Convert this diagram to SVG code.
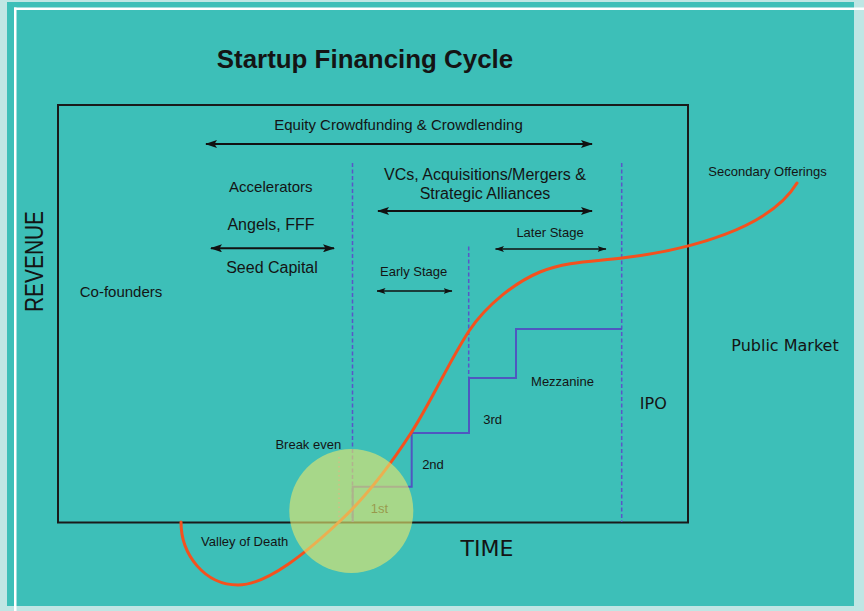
<svg xmlns="http://www.w3.org/2000/svg" width="864" height="611" viewBox="0 0 864 611">
<defs>
<style>
.t{font-family:"Liberation Sans",Arial,sans-serif;fill:#141414}
.d{font-family:"DejaVu Sans",sans-serif;fill:#141414}
.arr{stroke:#111;stroke-width:2;fill:none}
.arrs{stroke:#111;stroke-width:1.4;fill:none}
.dash{stroke:#5a55c8;stroke-width:1.5;stroke-dasharray:4 2.5;fill:none}
.stair{stroke:#4f57c0;stroke-width:2;fill:none}
</style>
<marker id="ah" viewBox="0 0 12 8" refX="11" refY="4" markerWidth="12" markerHeight="8" markerUnits="userSpaceOnUse" orient="auto-start-reverse">
<path d="M0,0 L12,4 L0,8 L2.5,4 z" fill="#111"/>
</marker>
<marker id="ahs" viewBox="0 0 9 6" refX="8.5" refY="3" markerWidth="9" markerHeight="6" markerUnits="userSpaceOnUse" orient="auto-start-reverse">
<path d="M0,0 L9,3 L0,6 L2,3 z" fill="#111"/>
</marker>
</defs>
<rect x="0" y="0" width="864" height="611" fill="#bfe6e4"/>
<rect x="7" y="2" width="847" height="604" fill="#3dbfb8"/>
<rect x="14" y="7.5" width="850" height="2.5" fill="#ffffff"/>
<rect x="14" y="7.5" width="2.5" height="603.5" fill="#ffffff"/>

<text class="t" x="365" y="68" font-size="25.9" font-weight="bold" text-anchor="middle">Startup Financing Cycle</text>

<g id="frame">
<rect x="58" y="105" width="630" height="417.5" fill="none" stroke="#1a1a1a" stroke-width="2"/>
</g>

<g id="axes-labels">
<text class="t" transform="translate(42.5,261.5) rotate(-90)" font-size="26" text-anchor="middle" textLength="101" lengthAdjust="spacingAndGlyphs">REVENUE</text>
<text class="d" x="487" y="556" font-size="22" text-anchor="middle">TIME</text>
</g>

<g id="dividers">
<line class="dash" x1="352.5" y1="163" x2="352.5" y2="522"/>
<line class="dash" x1="468.7" y1="246.5" x2="468.7" y2="378"/>
<line class="dash" x1="621.7" y1="163" x2="621.7" y2="522"/>
<line x1="339" y1="457" x2="339" y2="522" stroke="#b07aa8" stroke-width="1.5" stroke-dasharray="1.5 3"/>
</g>

<g id="connectors">
<line class="arr" x1="206" y1="144" x2="592" y2="144" marker-start="url(#ah)" marker-end="url(#ah)"/>
<line class="arr" x1="378" y1="211" x2="592" y2="211" marker-start="url(#ah)" marker-end="url(#ah)"/>
<line class="arr" x1="211" y1="248.3" x2="334" y2="248.3" marker-start="url(#ah)" marker-end="url(#ah)"/>
<line class="arrs" x1="495.5" y1="249" x2="606" y2="249" marker-start="url(#ahs)" marker-end="url(#ahs)"/>
<line class="arrs" x1="377" y1="291" x2="452" y2="291" marker-start="url(#ahs)" marker-end="url(#ahs)"/>
</g>

<g id="stairs">
<path class="stair" d="M352.7,522 V486.7 H411.7 V433 H469 V378 H516 V329 H622"/>
</g>

<g id="labels">
<text class="t" x="398.5" y="130" font-size="15" text-anchor="middle">Equity Crowdfunding &amp; Crowdlending</text>
<text class="t" x="270.8" y="191.5" font-size="15" text-anchor="middle">Accelerators</text>
<text class="t" x="271" y="230" font-size="16" text-anchor="middle">Angels, FFF</text>
<text class="t" x="272" y="273" font-size="16" text-anchor="middle">Seed Capital</text>
<text class="t" x="121" y="296.5" font-size="15" text-anchor="middle">Co-founders</text>
<text class="t" x="485" y="180" font-size="16" text-anchor="middle">VCs, Acquisitions/Mergers &amp;</text>
<text class="t" x="485" y="199" font-size="16" text-anchor="middle">Strategic Alliances</text>
<text class="t" x="550" y="236.5" font-size="13" text-anchor="middle">Later Stage</text>
<text class="t" x="413.7" y="276" font-size="13" text-anchor="middle">Early Stage</text>
<text class="t" x="767.5" y="176" font-size="13" text-anchor="middle">Secondary Offerings</text>
<text class="d" x="785" y="351" font-size="16" text-anchor="middle">Public Market</text>
<text class="d" x="653.3" y="408.5" font-size="16" text-anchor="middle">IPO</text>
<text class="t" x="562.5" y="385.5" font-size="13" text-anchor="middle">Mezzanine</text>
<text class="t" x="492.7" y="424" font-size="13" text-anchor="middle">3rd</text>
<text class="t" x="433" y="468.5" font-size="13" text-anchor="middle">2nd</text>
<text class="t" x="379.5" y="513" font-size="13" text-anchor="middle">1st</text>
<text class="t" x="308.3" y="449.3" font-size="13" text-anchor="middle">Break even</text>
<text class="t" x="244.7" y="546" font-size="13" text-anchor="middle">Valley of Death</text>
</g>

<g id="revenue-curve">
<path d="M181,522 C181,555 205,585 238,585 C268,585 309,550 339,522 C364,499 389,467 411,433 C431,402 450,360 469,331 C487,304 516,282 540,272 C567,261 595,261.5 622,258 C690,250 770,228 797,183" fill="none" stroke="#f4511e" stroke-width="3" stroke-linecap="round"/>
</g>

<g id="break-even-circle">
<circle cx="351.3" cy="511" r="62" fill="#e6e66e" fill-opacity="0.63"/>
</g>
</svg>
